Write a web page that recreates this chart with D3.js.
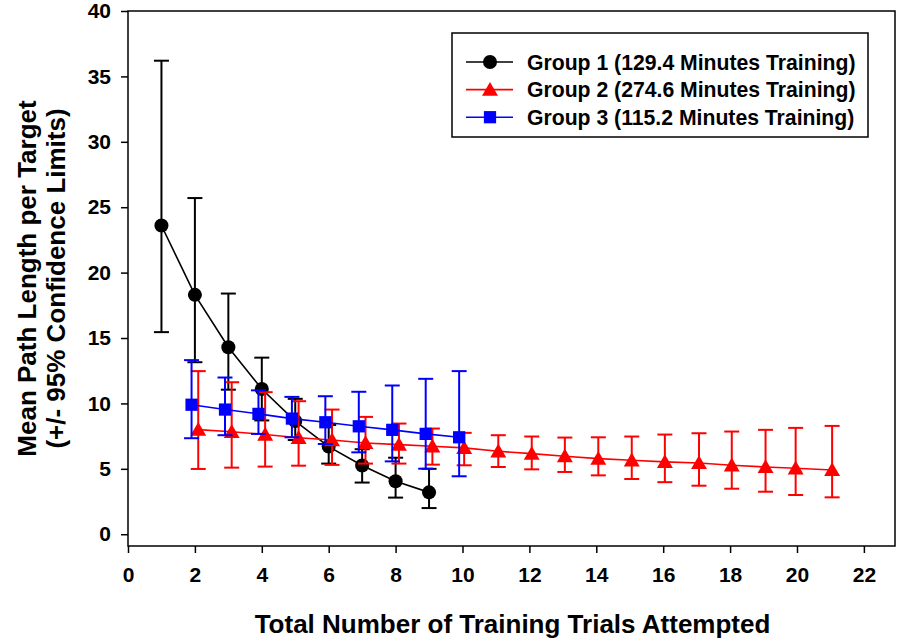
<!DOCTYPE html>
<html>
<head>
<meta charset="utf-8">
<script src="https://cdn.jsdelivr.net/npm/d3@7"></script>
<style>
  html, body { margin: 0; padding: 0; background: #fff; }
  svg { display: block; }
  text { font-family: "Liberation Sans", Arial, Helvetica, sans-serif; font-weight: bold; fill: #000; }
</style>
</head>
<body>
<svg id="chart" width="899" height="641"></svg>
<script>
// Group 1 (129.4 minutes of training)
const trials1 = [1, 2, 3, 4, 5, 6, 7, 8, 9];
const mean1   = [23.6, 18.3, 14.3, 11.1, 8.65, 6.7, 5.25, 4.05, 3.2];
const upper1  = [36.2, 25.7, 18.4, 13.5, 10.35, 8.35, 6.5, 5.85, 5.0];
const lower1  = [15.45, 13.15, 11.05, 8.7, 7.2, 5.4, 3.95, 2.8, 2.0];

// Group 2 (274.6 minutes of training)
const trials2 = [2.1, 3.1, 4.1, 5.1, 6.1, 7.1, 8.1, 9.1, 10.05, 11.07, 12.07, 13.06, 14.06, 15.06, 16.05, 17.07, 18.05, 19.06, 19.96, 21.05];
const mean2   = [8.0, 7.83, 7.62, 7.37, 7.2, 6.98, 6.85, 6.72, 6.6, 6.34, 6.16, 5.96, 5.78, 5.65, 5.53, 5.45, 5.27, 5.14, 5.04, 4.91];
const upper2  = [12.47, 11.62, 10.86, 10.17, 9.53, 8.97, 8.46, 8.08, 7.75, 7.57, 7.47, 7.39, 7.41, 7.47, 7.62, 7.72, 7.85, 7.98, 8.13, 8.28];
const lower2  = [4.99, 5.09, 5.17, 5.24, 5.3, 5.4, 5.4, 5.32, 5.27, 5.14, 4.96, 4.76, 4.5, 4.22, 3.98, 3.71, 3.48, 3.25, 3.0, 2.82];

// Group 3 (115.2 minutes of training)
const trials3 = [1.9, 2.9, 3.9, 4.9, 5.9, 6.9, 7.9, 8.9, 9.9];
const mean3   = [9.9, 9.53, 9.2, 8.84, 8.56, 8.25, 7.98, 7.67, 7.41];
const upper3  = [13.31, 11.98, 11.0, 10.5, 10.55, 10.89, 11.37, 11.88, 12.47];
const lower3  = [7.34, 7.57, 7.67, 7.41, 6.9, 6.26, 5.57, 5.01, 4.43];

const groupNames = [
  "Group 1 (129.4 Minutes Training)",
  "Group 2 (274.6 Minutes Training)",
  "Group 3 (115.2 Minutes Training)"
];
const groupColors = ["#000000", "#ff0000", "#0000ff"];
const groupSymbols = ["circle", "triangle", "square"];

const xTicks = [0, 2, 4, 6, 8, 10, 12, 14, 16, 18, 20, 22];
const yTicks = [0, 5, 10, 15, 20, 25, 30, 35, 40];
const xTitle = "Total Number of Training Trials Attempted";
const yTitleLines = ["Mean Path Length per Target", "(+/- 95% Confidence Limits)"];

// ---- layout ----
const plot = { left: 128, top: 11, right: 895, bottom: 546 };
const x = d3.scaleLinear().domain([0, 22.93]).range([plot.left, plot.right]);
const y = d3.scaleLinear().domain([-0.9, 40]).range([plot.bottom, plot.top]);

const svg = d3.select("#chart");

// frame
svg.append("rect")
  .attr("x", plot.left).attr("y", plot.top)
  .attr("width", plot.right - plot.left).attr("height", plot.bottom - plot.top)
  .attr("fill", "none").attr("stroke", "#000").attr("stroke-width", 1.5);

// axes
const xAxis = svg.append("g")
  .attr("transform", `translate(0,${plot.bottom})`)
  .call(d3.axisBottom(x).tickValues(xTicks).tickSize(7).tickPadding(14).tickFormat(d3.format("d")));
const yAxis = svg.append("g")
  .attr("transform", `translate(${plot.left},0)`)
  .call(d3.axisLeft(y).tickValues(yTicks).tickSize(7).tickPadding(10).tickFormat(d3.format("d")));
[xAxis, yAxis].forEach(g => {
  g.select(".domain").remove();
  g.selectAll(".tick line").attr("stroke", "#000").attr("stroke-width", 1.5);
  g.selectAll(".tick text").attr("font-size", 21).attr("font-family", null).attr("fill", "#000");
});

// axis titles
svg.append("text")
  .attr("x", (plot.left + plot.right) / 2 + 1).attr("y", 633)
  .attr("text-anchor", "middle").attr("font-size", 26)
  .text(xTitle);

const yTitle = svg.append("text")
  .attr("transform", `translate(36,${(plot.top + plot.bottom) / 2}) rotate(-90)`)
  .attr("text-anchor", "middle").attr("font-size", 26);
yTitleLines.forEach((line, i) => {
  yTitle.append("tspan").attr("x", 0).attr("dy", i === 0 ? 0 : 29).text(line);
});

// ---- series ----
const symbolSize = { circle: 155, triangle: 110, square: 150 };
function symbolPath(kind) {
  const type = kind === "circle" ? d3.symbolCircle : kind === "triangle" ? d3.symbolTriangle : d3.symbolSquare;
  return d3.symbol().type(type).size(symbolSize[kind])();
}

function drawGroup(trials, mean, upper, lower, color, kind) {
  const g = svg.append("g");
  const pts = trials.map((t, i) => ({ t, m: mean[i], hi: upper[i], lo: lower[i] }));
  const capHalf = 7.5;

  // error bars
  const eb = g.append("g").attr("stroke", color).attr("stroke-width", 2).attr("fill", "none");
  pts.forEach(p => {
    eb.append("line").attr("x1", x(p.t)).attr("x2", x(p.t)).attr("y1", y(p.hi)).attr("y2", y(p.lo));
    eb.append("line").attr("x1", x(p.t) - capHalf).attr("x2", x(p.t) + capHalf).attr("y1", y(p.hi)).attr("y2", y(p.hi));
    eb.append("line").attr("x1", x(p.t) - capHalf).attr("x2", x(p.t) + capHalf).attr("y1", y(p.lo)).attr("y2", y(p.lo));
  });

  // connecting line
  g.append("path")
    .datum(pts)
    .attr("fill", "none").attr("stroke", color).attr("stroke-width", 1.6)
    .attr("d", d3.line().x(p => x(p.t)).y(p => y(p.m)));

  // markers (triangle centred on its bounding box)
  const dy = kind === "triangle" ? 1.5 : 0;
  g.selectAll("path.marker")
    .data(pts).join("path")
    .attr("class", "marker")
    .attr("d", symbolPath(kind))
    .attr("transform", p => `translate(${x(p.t)},${y(p.m) + dy})`)
    .attr("fill", color);
}

drawGroup(trials1, mean1, upper1, lower1, groupColors[0], groupSymbols[0]);
drawGroup(trials2, mean2, upper2, lower2, groupColors[1], groupSymbols[1]);
drawGroup(trials3, mean3, upper3, lower3, groupColors[2], groupSymbols[2]);

// ---- legend ----
const legend = svg.append("g");
legend.append("rect")
  .attr("x", 452).attr("y", 33).attr("width", 416).attr("height", 104)
  .attr("fill", "#fff").attr("stroke", "#000").attr("stroke-width", 1.5);
groupNames.forEach((name, i) => {
  const cy = 62 + i * 27.6;
  const row = legend.append("g");
  row.append("line").attr("x1", 466).attr("x2", 513).attr("y1", cy).attr("y2", cy)
    .attr("stroke", groupColors[i]).attr("stroke-width", 1.6);
  row.append("path").attr("d", symbolPath(groupSymbols[i]))
    .attr("transform", `translate(490,${cy + (groupSymbols[i] === "triangle" ? 1.5 : 0)})`)
    .attr("fill", groupColors[i]);
  row.append("text").attr("x", 527).attr("y", cy + 7.5).attr("font-size", 21.2).text(name);
});
</script>
</body>
</html>
